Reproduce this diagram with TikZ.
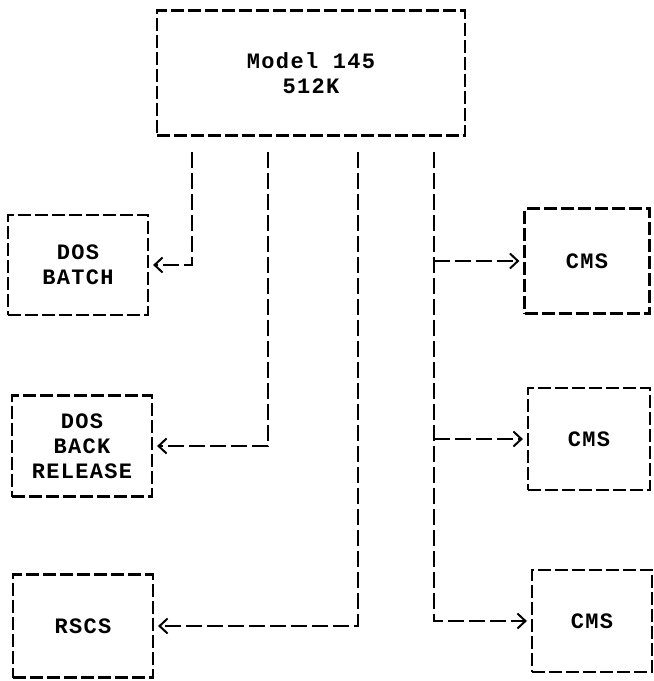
\documentclass[tikz,border=0pt]{standalone}
\usepackage{fontspec}
\setmonofont{Liberation Mono}[LetterSpace=6]
\usetikzlibrary{arrows.meta, positioning}

\begin{document}
\begin{tikzpicture}[x=1pt, y=-1pt, font=\ttfamily\bfseries\fontsize{22}{25}\selectfont,
    tbox/.style={draw, dash pattern=on 13pt off 4pt, line width=2.2pt, align=center, inner sep=0pt},
    link/.style={dash pattern=on 16pt off 5pt, line width=2.2pt, -{Straight Barb[length=8pt, width=15pt, line width=2pt]}, shorten >=4pt}]
        \useasboundingbox (0,0) rectangle (654,681);
        % main machine
        \node[tbox, minimum width=308pt, minimum height=125pt] (model) at (311,73) {Model 145\\512K};
        % guests on the left
        \node[tbox, minimum width=140pt, minimum height=100pt] (batch) at (78,265) {DOS\\BATCH};
        \node[tbox, minimum width=140pt, minimum height=101pt] (back) at (82,446) {DOS\\BACK\\RELEASE};
        \node[tbox, minimum width=140pt, minimum height=103pt] (rscs) at (83,626) {RSCS};
        % guests on the right
        \node[tbox, minimum width=125pt, minimum height=105pt] (cms1) at (587,261) {CMS};
        \node[tbox, minimum width=122pt, minimum height=102pt] (cms2) at (589,439) {CMS};
        \node[tbox, minimum width=120pt, minimum height=102pt] (cms3) at (592,621) {CMS};
        % line ends under the main box
        \coordinate (t1) at (192,152);
        \coordinate (t2) at (268,152);
        \coordinate (t3) at (358,152);
        \coordinate (t4) at (434,152);
        \draw[link] (t1) |- (batch.east);
        \draw[link] (t2) |- (back.east);
        \draw[link] (t3) |- (rscs.east);
        \draw[link] (t4) |- (cms3.west);
        \draw[link] (t4 |- cms1.west) -- (cms1.west);
        \draw[link] (t4 |- cms2.west) -- (cms2.west);
      \end{tikzpicture}
\end{document}
